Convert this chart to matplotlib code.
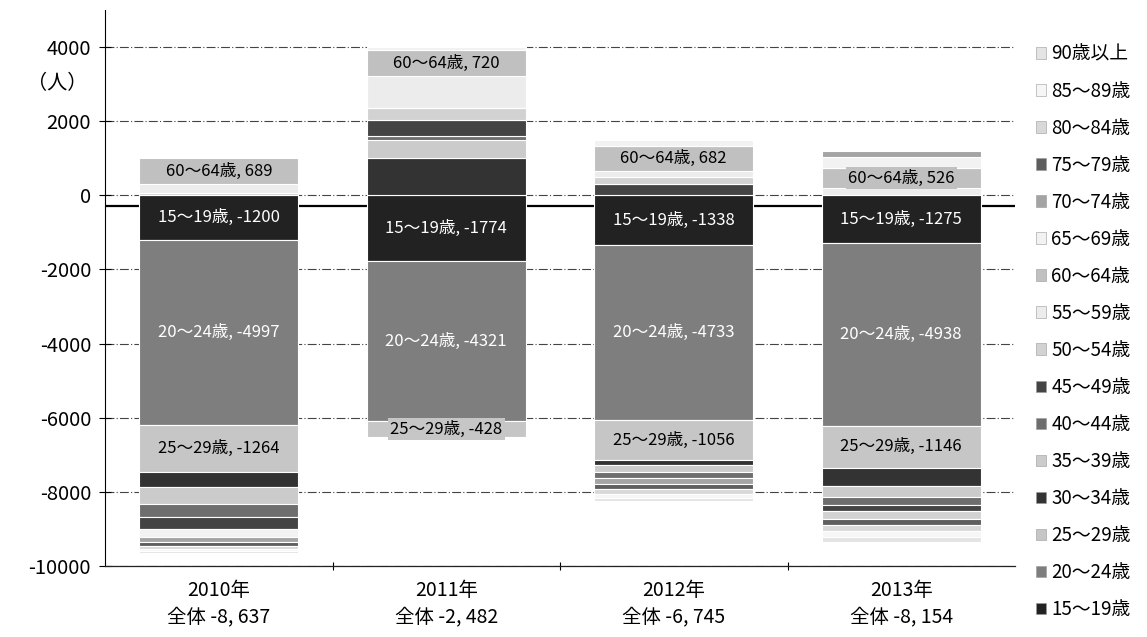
import matplotlib
matplotlib.use('Agg')
import matplotlib.pyplot as plt
import numpy as np
from matplotlib.patches import Patch

plt.rcParams['font.family'] = ['Noto Sans CJK JP', 'DejaVu Sans']

years = ['2010年', '2011年', '2012年', '2013年']
totals = ['全体 -8, 637', '全体 -2, 482', '全体 -6, 745', '全体 -8, 154']
ages = ['15～19歳', '20～24歳', '25～29歳', '30～34歳', '35～39歳', '40～44歳',
        '45～49歳', '50～54歳', '55～59歳', '60～64歳', '65～69歳', '70～74歳',
        '75～79歳', '80～84歳', '85～89歳', '90歳以上']
v2010 = [-1200, -4997, -1264, -420, -450, -350, -330, 60, 250, 689, -200, -150, -110, -80, -50, -35]
v2011 = [-1774, -4321, -428, 1000, 480, 120, 430, 330, 850, 720, 60, 20, 15, 10, 4, 2]
v2012 = [-1338, -4733, -1056, -150, -200, -150, 300, 200, 150, 682, 168, -150, -150, -130, -110, -78]
v2013 = [-1275, -4938, -1146, -480, -300, -220, -160, -200, 200, 526, 300, 174, -180, -170, -150, -135]
labeled = ['15～19歳', '20～24歳', '25～29歳', '60～64歳']

colors = ['#222222', '#7e7e7e', '#c6c6c6', '#333333', '#cbcbcb', '#6e6e6e',
          '#444444', '#d2d2d2', '#ececec', '#c0c0c0', '#f2f2f2', '#a4a4a4',
          '#5e5e5e', '#d8d8d8', '#f6f6f6', '#e4e4e4']
text_colors = {'15～19歳': 'white', '20～24歳': 'white', '25～29歳': 'black', '60～64歳': 'black'}

fig = plt.figure(figsize=(11.47, 6.37), dpi=100)
ax = fig.add_axes([105/1147, 1-566/637, 910/1147, 556/637])

data = np.array([v2010, v2011, v2012, v2013], dtype=float)
x = np.arange(len(years))
width = 0.70
pos = np.zeros(len(years))
neg = np.zeros(len(years))
handles = []
for j, age in enumerate(ages):
    vals = data[:, j]
    bottoms = np.where(vals >= 0, pos, neg)
    ax.bar(x, vals, width, bottom=bottoms, color=colors[j], edgecolor='white',
           linewidth=0.8, zorder=3)
    handles.append(Patch(facecolor=colors[j], edgecolor='#999999', linewidth=0.4, label=age))
    if age in labeled:
        for i in range(len(years)):
            ax.text(x[i], bottoms[i] + vals[i] / 2, f'{age}, {int(vals[i])}',
                    ha='center', va='center', fontsize=12, color=text_colors[age],
                    zorder=5,
                    bbox=dict(boxstyle='square,pad=0.15', facecolor=colors[j],
                              edgecolor='none'))
    pos += np.where(vals >= 0, vals, 0)
    neg += np.where(vals < 0, vals, 0)

ax.axhline(-300, color='black', lw=1.6, zorder=2)

ax.set_xlim(-0.5, 3.5)
ax.set_ylim(-10000, 5000)
yt = np.arange(-10000, 4001, 2000)
ax.set_yticks(yt)
ax.set_yticklabels([str(t) for t in yt], fontsize=14.5)
ax.yaxis.grid(True, color='#444444', linewidth=0.8, linestyle=(0, (8, 2, 1, 2)), zorder=1)
ax.set_axisbelow(True)
ax.tick_params(axis='y', direction='inout', length=8, width=0.8, pad=6)
ax.set_xticks(x)
ax.set_xticklabels([f'{y}\n{t}' for y, t in zip(years, totals)], fontsize=14, linespacing=1.35)
ax.set_xticks([0.5, 1.5, 2.5], minor=True)
ax.tick_params(axis='x', which='major', length=0, pad=10)
ax.tick_params(axis='x', which='minor', length=6, direction='inout', width=0.8)
for s in ['top', 'right']:
    ax.spines[s].set_visible(False)
ax.spines['left'].set_linestyle((0, (6, 1, 1, 1)))
ax.spines['left'].set_linewidth(0.8)
ax.spines['bottom'].set_linewidth(0.9)
ax.spines['bottom'].set_color('#222222')

fig.text(57/1147, 1-84/637, '（人）', ha='center', va='center', fontsize=14.5)

fig.legend(handles=handles[::-1], loc='upper left', bbox_to_anchor=(1028/1147, 1-36/637),
           frameon=False, fontsize=13.5, handlelength=0.55, handleheight=0.55,
           handletextpad=0.3, labelspacing=0.855, borderaxespad=0)

fig.savefig('out.png', dpi=100)
